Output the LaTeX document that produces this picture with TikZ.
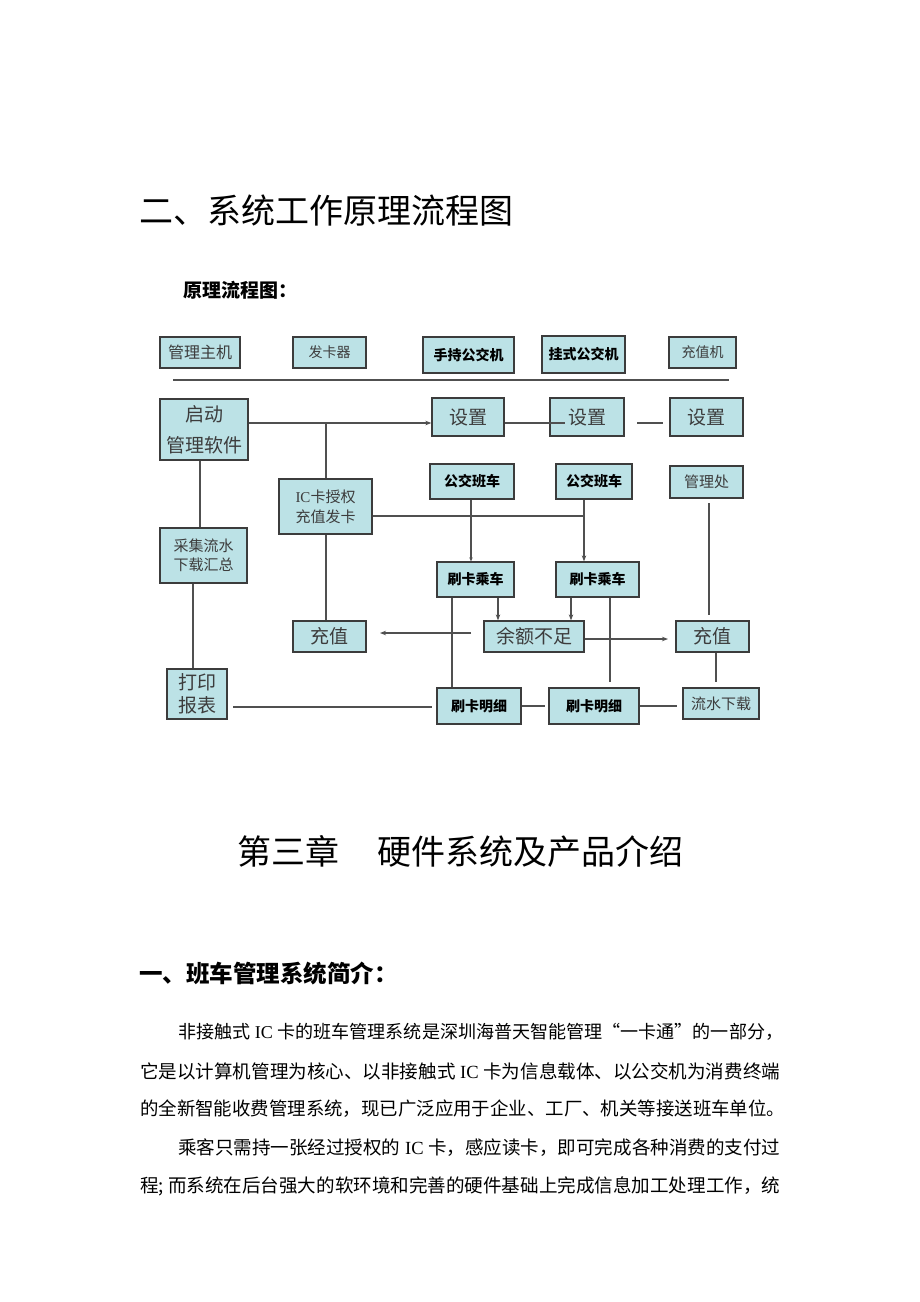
\documentclass[tikz,border=0pt]{standalone}
\usepackage{fontspec}
\setmainfont{Liberation Serif}
\newfontfamily\cjk{Noto Sans CJK SC}
\newfontfamily\lat{Liberation Serif}
\usetikzlibrary{arrows.meta,shadows}
\definecolor{boxfill}{RGB}{188,226,230}
\definecolor{boxline}{RGB}{60,60,60}
\definecolor{lineg}{RGB}{80,80,80}
\definecolor{txtg}{RGB}{60,60,60}
\newcommand{\fs}[2]{\fontsize{#1pt}{#2pt}\selectfont}
\tikzset{
  box/.style={draw=boxline, line width=1.3pt, fill=boxfill, rectangle, inner sep=0pt,
    align=center, drop shadow={shadow xshift=1pt, shadow yshift=-1pt, fill=black!45, opacity=0.6}},
  gbox/.style={box, text=txtg, font=\cjk\fs{#1}{#1}},
  gbox2/.style 2 args={box, text=txtg, font=\cjk\fs{#1}{#2}},
  bbox/.style={box, text=black, font=\cjk\bfseries\fs{14}{14}},
  conn/.style={draw=lineg, line width=1.2pt},
  arr/.style={conn, -{Stealth[length=6pt,width=4.5pt]}},
  sarr/.style={conn, -{Stealth[length=4pt,width=3.5pt]}},
  ptext/.style={anchor=west, inner sep=0pt, text=black}
}
\begin{document}
\begin{tikzpicture}[x=1pt,y=-1pt]
\useasboundingbox (0,0) rectangle (920,1302);
\fill[white] (0,0) rectangle (920,1302);

% page headings
\node[ptext, font=\cjk\fs{34}{34}] (h1) at (139,211) {二、系统工作原理流程图};
\node[ptext, font=\cjk\bfseries\fs{19}{19}] (h2) at (183,290) {原理流程图：};

% row 1
\node[gbox=16, minimum width=80pt, minimum height=31pt] (zhuji) at (200,352.5) {管理主机};
\node[gbox=14, minimum width=73pt, minimum height=31pt] (faka) at (329.5,352.5) {发卡器};
\node[bbox, minimum width=91pt, minimum height=36pt] (shouchi) at (468.5,355) {手持公交机};
\node[bbox, minimum width=83pt, minimum height=37pt] (guashi) at (583.5,354.5) {挂式公交机};
\node[gbox=14, minimum width=67pt, minimum height=31pt] (czj) at (702.5,352.5) {充值机};
\coordinate (hl1) at (173,380);
\coordinate (hl2) at (729,380);
\draw[conn, line width=1.6pt] (hl1) -- (hl2);

% row 2
\node[gbox2={19}{31}, minimum width=88pt, minimum height=61pt] (qidong) at (204,429.5) {启动\\管理软件};
\node[gbox=19, minimum width=72pt, minimum height=38pt] (sz1) at (468,417) {设置};
\node[gbox=19, minimum width=74pt, minimum height=38pt] (sz2) at (587,417) {设置};
\node[gbox=19, minimum width=73pt, minimum height=38pt] (sz3) at (706.5,417) {设置};

% row 3
\node[gbox2={15}{20}, minimum width=93pt, minimum height=55pt] (ic) at (325.5,506.5) {{\lat IC}卡授权\\充值发卡};
\node[bbox, minimum width=84pt, minimum height=35pt] (bus1) at (472,481.5) {公交班车};
\node[bbox, minimum width=76pt, minimum height=35pt] (bus2) at (594,481.5) {公交班车};
\node[gbox=15, minimum width=73pt, minimum height=32pt] (glc) at (706.5,482) {管理处};
\node[gbox2={15}{19}, minimum width=87pt, minimum height=55pt] (caiji) at (203.5,555.5) {采集流水\\下载汇总};

% row 4
\node[bbox, minimum width=77pt, minimum height=35pt] (sk1) at (475.5,579.5) {刷卡乘车};
\node[bbox, minimum width=83pt, minimum height=35pt] (sk2) at (597.5,579.5) {刷卡乘车};
\node[gbox=19, minimum width=100pt, minimum height=31pt] (yue) at (534,636.5) {余额不足};
\node[gbox=19, minimum width=73pt, minimum height=31pt] (cz1) at (329.5,636.5) {充值};
\node[gbox=19, minimum width=73pt, minimum height=31pt] (cz2) at (712.5,636.5) {充值};

% row 5
\node[gbox2={19}{23}, minimum width=60pt, minimum height=50pt] (dayin) at (197,694) {打印\\报表};
\node[bbox, minimum width=84pt, minimum height=36pt] (mx1) at (479,706) {刷卡明细};
\node[bbox, minimum width=90pt, minimum height=36pt] (mx2) at (594,706) {刷卡明细};
\node[gbox=15, minimum width=76pt, minimum height=31pt] (lsxz) at (721,703.5) {流水下载};

% connectors
\coordinate (j1) at (326,423);
\draw[arr] (qidong.east |- j1) -- (sz1.west |- j1);
\draw[conn] (j1) -- (ic.north -| j1);
\coordinate (e12) at (565,423);
\draw[conn] (sz1.east |- j1) -- (e12);
\coordinate (d1) at (637,423);
\coordinate (d2) at (663,423);
\draw[conn] (d1) -- (d2);

\coordinate (x200) at (200,0);
\draw[conn] (qidong.south -| x200) -- (caiji.north -| x200);
\coordinate (x193) at (193,0);
\draw[conn] (caiji.south -| x193) -- (dayin.north -| x193);

\coordinate (j2) at (584,516);
\draw[conn] (ic.east |- j2) -- (j2);
\coordinate (x471) at (471,0);
\draw[sarr] (bus1.south -| x471) -- (sk1.north -| x471);
\draw[arr] (bus2.south -| j2) -- (sk2.north -| j2);

\coordinate (g1) at (709,503);
\coordinate (g2) at (709,615);
\draw[conn] (g1) -- (g2);

\coordinate (x498) at (498,0);
\draw[arr] (sk1.south -| x498) -- (yue.north -| x498);
\coordinate (x571) at (571,0);
\draw[arr] (sk2.south -| x571) -- (yue.north -| x571);

\coordinate (x452) at (452,0);
\draw[conn] (sk1.south -| x452) -- (mx1.north -| x452);
\coordinate (v2) at (610,682);
\draw[conn] (sk2.south -| v2) -- (v2);

\draw[conn] (ic.south -| j1) -- (cz1.north -| j1);

\coordinate (la) at (471,633);
\coordinate (lb) at (380,633);
\draw[arr] (la) -- (lb);
\coordinate (ra) at (668,639);
\draw[arr] (yue.east |- ra) -- (ra);

\coordinate (c2) at (716,682);
\draw[conn] (cz2.south -| c2) -- (c2);

\coordinate (p1) at (233,707);
\coordinate (p2) at (432,707);
\draw[conn] (p1) -- (p2);
\coordinate (m1) at (522,706);
\coordinate (m2) at (545,706);
\draw[conn] (m1) -- (m2);
\coordinate (m3) at (677,706);
\draw[conn] (mx2.east) -- (m3);

% chapter heading
\node[ptext, font=\cjk\fs{34}{34}] (h3) at (237,851) {第三章\hspace{0.12em}　硬件系统及产品介绍};
\node[ptext, font=\cjk\bfseries\fs{23.5}{23.5}] (h4) at (139,973) {一、班车管理系统简介：};

% body paragraphs
\node[ptext, font=\cjk\fs{19}{19}] (b1) at (178,1032) {\resizebox{605pt}{!}{非接触式{\lat\ IC }卡的班车管理系统是深圳海普天智能管理“一卡通”的一部分，}};
\node[ptext, font=\cjk\fs{19}{19}] (b2) at (140,1071) {\resizebox{640pt}{!}{它是以计算机管理为核心、以非接触式{\lat\ IC }卡为信息载体、以公交机为消费终端}};
\node[ptext, font=\cjk\fs{19}{19}] (b3) at (140,1109) {\resizebox{645pt}{!}{的全新智能收费管理系统，现已广泛应用于企业、工厂、机关等接送班车单位。}};
\node[ptext, font=\cjk\fs{19}{19}] (b4) at (178,1148) {\resizebox{602pt}{!}{乘客只需持一张经过授权的{\lat\ IC }卡，感应读卡，即可完成各种消费的支付过}};
\node[ptext, font=\cjk\fs{19}{19}] (b5) at (140,1186) {\resizebox{640pt}{!}{程; 而系统在后台强大的软环境和完善的硬件基础上完成信息加工处理工作，统}};
\end{tikzpicture}
\end{document}
